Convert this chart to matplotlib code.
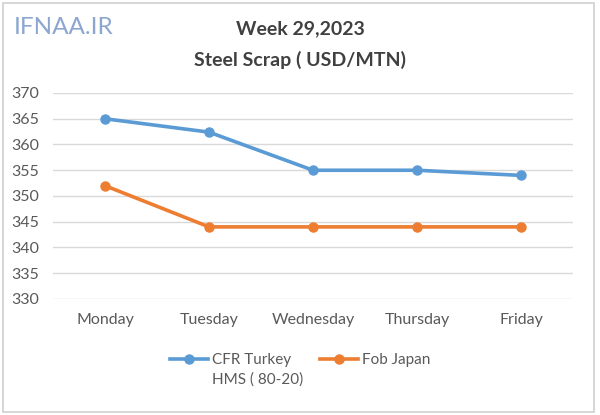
import matplotlib
matplotlib.use("Agg")
import matplotlib.pyplot as plt
from matplotlib.patches import Rectangle

days = ["Monday", "Tuesday", "Wednesday", "Thursday", "Friday"]
cfr_turkey = [365, 362.4, 355, 355, 354]
fob_japan = [352, 344, 344, 344, 344]
yticks = [330, 335, 340, 345, 350, 355, 360, 365, 370]

plt.rcParams['font.family'] = ['Lato', 'DejaVu Sans']

W, H = 600, 415
fig = plt.figure(figsize=(6.0, 4.15), dpi=100)
fig.patch.set_facecolor("white")
fig.patches.append(Rectangle((3/W, 3/H), 591/W, 409/H, transform=fig.transFigure,
                             fill=False, edgecolor="#D0D0D0", linewidth=1.2))

ax = fig.add_axes([53/W, (H-299)/H, (573-53)/W, (299-93)/H])
x = list(range(len(days)))
l1, = ax.plot(x, cfr_turkey, color="#5B9BD5", linewidth=2.6, marker="o", markersize=6.5,
              label="CFR Turkey")
l2, = ax.plot(x, fob_japan, color="#ED7D31", linewidth=2.6, marker="o", markersize=6.5,
              label="Fob Japan")

ax.set_xlim(-0.5, len(days) - 0.5)
ax.set_ylim(330, 370)
ax.set_yticks(yticks)
ax.set_xticks(x)
ax.set_xticklabels(days)
ax.grid(axis="y", color="#D9D9D9", linewidth=1)
ax.set_axisbelow(True)
for s in ax.spines.values():
    s.set_visible(False)
ax.tick_params(axis="both", length=0, colors="#595959", labelsize=11.5)
ax.tick_params(axis="x", pad=10)
ax.tick_params(axis="y", pad=10)

fig.text(300/W, 1 - 29/H, "Week 29,2023", ha="center", va="center", fontsize=14,
         fontweight="bold", color="#404040")
fig.text(300/W, 1 - 60/H, "Steel Scrap ( USD/MTN)", ha="center", va="center", fontsize=14,
         fontweight="bold", color="#404040")
fig.text(14/W, 1 - 28/H, "IFNAA.IR", ha="left", va="center", fontsize=17.5,
         color="#6F90C4", alpha=0.8)

common = dict(loc="center left", frameon=False, fontsize=11, handlelength=2.5,
              handletextpad=0.25, borderaxespad=0, borderpad=0)
leg1 = fig.legend(handles=[l1], bbox_to_anchor=(170/W, 1 - 360/H), **common)
leg2 = fig.legend(handles=[l2], bbox_to_anchor=(320/W, 1 - 360/H), **common)
for lg in (leg1, leg2):
    for t in lg.get_texts():
        t.set_color("#595959")
fig.canvas.draw()
bb = leg1.get_texts()[0].get_window_extent()
fig.text(bb.x0 / W, (1 - 380/H), "HMS ( 80-20)", ha="left", va="center", fontsize=11,
         color="#595959")

fig.savefig("out.png", dpi=100, facecolor="white")
